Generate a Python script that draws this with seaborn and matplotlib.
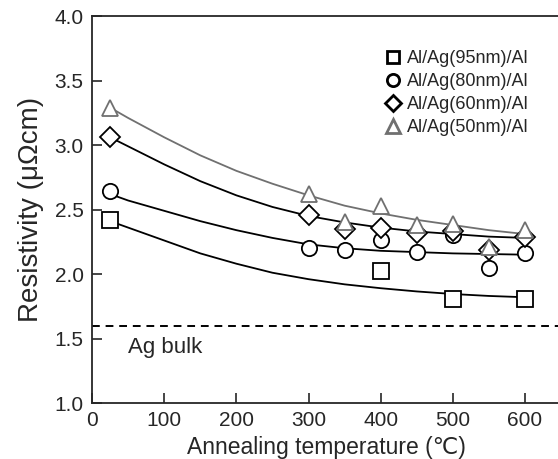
import matplotlib
matplotlib.use("Agg")
import matplotlib.pyplot as plt
from matplotlib.lines import Line2D
import seaborn as sns

# measured points (annealing temperature in C, resistivity in uOhm cm)
temp_95 = [25, 400, 500, 600]
rho_95 = [2.42, 2.02, 1.81, 1.81]

temp_all = [25, 300, 350, 400, 450, 500, 550, 600]
rho_80 = [2.64, 2.20, 2.19, 2.26, 2.17, 2.30, 2.05, 2.16]
rho_60 = [3.06, 2.46, 2.35, 2.36, 2.32, 2.33, 2.19, 2.29]
rho_50 = [3.29, 2.62, 2.40, 2.53, 2.38, 2.39, 2.21, 2.34]

# fitted curves
fit_temp = [25, 50, 100, 150, 200, 250, 300, 350, 400, 450, 500, 550, 600]
fit_95 = [2.41, 2.36, 2.26, 2.16, 2.08, 2.01, 1.96, 1.92, 1.89, 1.865, 1.845, 1.83, 1.82]
fit_80 = [2.62, 2.57, 2.49, 2.41, 2.34, 2.28, 2.23, 2.20, 2.18, 2.17, 2.16, 2.155, 2.15]
fit_60 = [3.06, 2.99, 2.85, 2.72, 2.61, 2.52, 2.45, 2.40, 2.36, 2.33, 2.31, 2.29, 2.28]
fit_50 = [3.29, 3.21, 3.06, 2.92, 2.80, 2.70, 2.61, 2.53, 2.47, 2.42, 2.38, 2.34, 2.31]

ag_bulk = 1.6
labels = ["Al/Ag(95nm)/Al", "Al/Ag(80nm)/Al", "Al/Ag(60nm)/Al", "Al/Ag(50nm)/Al"]

sns.set_style("ticks")
plt.rcParams["font.family"] = ["Liberation Sans", "DejaVu Sans"]

fig = plt.figure(figsize=(5.58, 4.59), dpi=100)
ax = fig.add_axes([0.165, 0.122, 0.8405, 0.843])

series = [
    (temp_95, rho_95, fit_95, "s", "black", 11),
    (temp_all, rho_80, fit_80, "o", "black", 11),
    (temp_all, rho_60, fit_60, "D", "black", 10),
    (temp_all, rho_50, fit_50, "^", "#707070", 12),
]

for t, r, fit, mk, col, ms in series:
    sns.lineplot(x=fit_temp, y=fit, ax=ax, color=col, lw=1.3, zorder=2)
    ax.plot(t, r, ls="none", marker=mk, ms=ms, mfc="white", mec=col,
            mew=1.3, zorder=3)

ax.axhline(ag_bulk, color="black", ls=(0, (4, 3)), lw=1.4, zorder=1)
ax.text(50, 1.43, "Ag bulk", fontsize=16, va="center", ha="left")

ax.set_xlim(0, 650)
ax.set_ylim(1.0, 4.0)
ax.set_xticks([0, 100, 200, 300, 400, 500, 600])
ax.set_yticks([1.0, 1.5, 2.0, 2.5, 3.0, 3.5, 4.0])
ax.set_yticklabels(["1.0", "1.5", "2.0", "2.5", "3.0", "3.5", "4.0"])
ax.tick_params(direction="in", length=7, width=1.2, labelsize=15)
ax.tick_params(axis="x", pad=6)
ax.tick_params(axis="y", pad=6)
ax.set_xlabel("Annealing temperature (℃)", fontsize=16.5, labelpad=4)
ax.set_ylabel("Resistivity (μΩcm)", fontsize=20, labelpad=8)
for s in ["left", "bottom", "top"]:
    ax.spines[s].set_linewidth(1.3)
ax.spines["right"].set_visible(False)

handles = [
    Line2D([], [], ls="none", marker=mk, ms=ms * 0.8, mfc="white", mec=col, mew=2.0)
    for (_, _, _, mk, col, ms) in series
]
ax.legend(handles, labels, loc="upper left", bbox_to_anchor=(0.615, 0.93),
          frameon=False, fontsize=13, handlelength=0.6, handletextpad=0.45,
          labelspacing=0.33, borderaxespad=0)

fig.savefig("out.png", dpi=100)
